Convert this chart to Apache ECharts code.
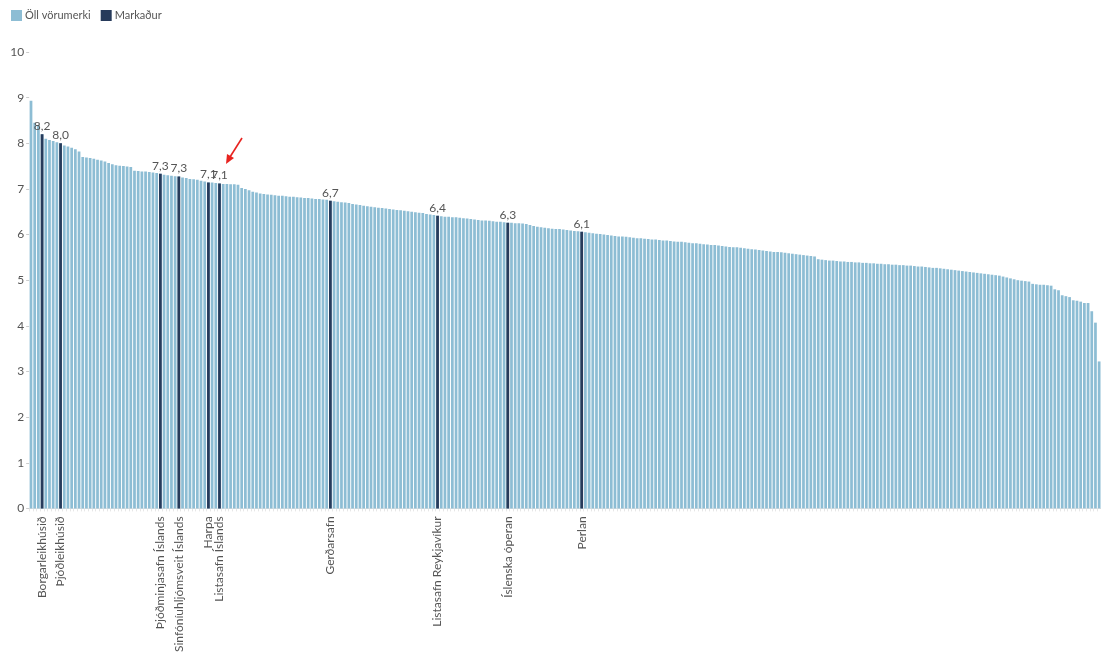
<!DOCTYPE html>
<html>
<head>
<meta charset="utf-8">
<script src="https://cdn.jsdelivr.net/npm/echarts@6/dist/echarts.min.js"></script>
<style>
html,body{margin:0;padding:0;background:#fff;}
#chart{width:1101px;height:655px;}
</style>
</head>
<body>
<div id="chart"></div>
<script>
// All brands, sorted descending
const allValues = [
  8.93, 8.45, 8.40, 8.20, 8.10, 8.07, 8.05, 8.02, 8.00, 7.95,
  7.93, 7.90, 7.87, 7.82, 7.70, 7.69, 7.68, 7.66, 7.64, 7.62,
  7.60, 7.57, 7.54, 7.52, 7.51, 7.50, 7.49, 7.48, 7.40, 7.39,
  7.38, 7.38, 7.37, 7.36, 7.35, 7.33, 7.31, 7.30, 7.29, 7.28,
  7.27, 7.25, 7.24, 7.22, 7.21, 7.20, 7.18, 7.16, 7.14, 7.14,
  7.13, 7.12, 7.11, 7.11, 7.10, 7.10, 7.09, 7.02, 7.00, 6.97,
  6.94, 6.92, 6.90, 6.89, 6.88, 6.87, 6.86, 6.85, 6.85, 6.84,
  6.83, 6.83, 6.82, 6.81, 6.80, 6.80, 6.79, 6.78, 6.78, 6.77,
  6.76, 6.74, 6.73, 6.72, 6.71, 6.70, 6.69, 6.67, 6.66, 6.65,
  6.63, 6.62, 6.61, 6.60, 6.59, 6.58, 6.57, 6.56, 6.55, 6.54,
  6.53, 6.52, 6.51, 6.50, 6.49, 6.48, 6.47, 6.45, 6.44, 6.43,
  6.41, 6.40, 6.39, 6.39, 6.38, 6.38, 6.37, 6.36, 6.35, 6.34,
  6.33, 6.32, 6.31, 6.31, 6.30, 6.29, 6.28, 6.28, 6.27, 6.26,
  6.26, 6.25, 6.25, 6.24, 6.23, 6.21, 6.19, 6.17, 6.16, 6.15,
  6.14, 6.13, 6.12, 6.12, 6.11, 6.10, 6.09, 6.08, 6.07, 6.06,
  6.05, 6.04, 6.03, 6.02, 6.01, 6.00,
  5.99, 5.98, 5.97, 5.96, 5.96, 5.95, 5.94, 5.93, 5.92, 5.92, 5.91, 5.90,
  5.89, 5.89, 5.88, 5.87, 5.87, 5.86, 5.85, 5.84, 5.84, 5.83, 5.82, 5.81, 5.81, 5.80,
  5.79, 5.78, 5.77, 5.77, 5.76, 5.75, 5.74, 5.73, 5.72, 5.72, 5.71, 5.70, 5.69,
  5.68, 5.67, 5.66, 5.65, 5.64, 5.63, 5.62, 5.62, 5.61, 5.60, 5.59, 5.58, 5.57, 5.56, 5.55, 5.54, 5.53, 5.52,
  5.46, 5.45, 5.44, 5.43, 5.43, 5.42, 5.41, 5.41, 5.40,
  5.40, 5.39, 5.39, 5.38, 5.38, 5.37, 5.37, 5.36, 5.36, 5.35, 5.35, 5.34, 5.34, 5.33,
  5.33, 5.32, 5.32, 5.31, 5.30, 5.30, 5.29, 5.28, 5.27, 5.27, 5.26, 5.25, 5.24,
  5.23, 5.22, 5.21, 5.20, 5.19, 5.18, 5.17, 5.16, 5.15, 5.14, 5.13, 5.12, 5.11, 5.10,
  5.08, 5.06, 5.04, 5.02, 5.00, 4.99, 4.98, 4.97,
  4.92, 4.91, 4.90, 4.90, 4.89, 4.88,
  4.80, 4.78,
  4.67, 4.65, 4.63,
  4.56, 4.55, 4.53,
  4.50, 4.50,
  4.32, 4.07, 3.22
];

// Highlighted market (Markaður) brands: name and position in the sorted list
const marketNames = [
  "Borgarleikhúsið", "Þjóðleikhúsið", "Þjóðminjasafn Íslands",
  "Sinfóníuhljómsveit Íslands", "Harpa", "Listasafn Íslands",
  "Gerðarsafn", "Listasafn Reykjavíkur", "Íslenska óperan", "Perlan"
];
const marketIndex = [3, 8, 35, 40, 48, 51, 81, 110, 129, 149];

const yTicks = [0, 1, 2, 3, 4, 5, 6, 7, 8, 9, 10];

const categories = allValues.map(function (v, i) {
  const k = marketIndex.indexOf(i);
  return k >= 0 ? marketNames[k] : "";
});
const marketValues = allValues.map(function (v, i) {
  return marketIndex.indexOf(i) >= 0 ? v : null;
});

const N = allValues.length;
const pitch = 3.7;

const chart = echarts.init(document.getElementById('chart'), null, {renderer: 'canvas'});
const font = 'Lato, "Open Sans", sans-serif';
chart.setOption({
  animation: false,
  textStyle: {fontFamily: font},
  legend: {
    left: 6, top: 5,
    itemWidth: 11, itemHeight: 11, itemGap: 10,
    icon: 'rect',
    textStyle: {color: '#555', fontSize: 11, fontFamily: font, padding: [0, 0, 0, -2]},
    data: ['Öll vörumerki', 'Markaður']
  },
  grid: {left: 31 - pitch / 2, top: 52, width: N * pitch, bottom: 146, containLabel: false},
  xAxis: {
    type: 'category',
    data: categories,
    axisLine: {show: true, lineStyle: {color: '#e3e3e3'}},
    axisTick: {show: true, interval: 0, length: 3, lineStyle: {color: '#e6e6e6'}},
    axisLabel: {
      interval: 0, rotate: 90, color: '#555', fontSize: 12, margin: 8,
      fontFamily: font
    }
  },
  yAxis: {
    type: 'value', min: 0, max: 10, interval: 1,
    splitLine: {show: false},
    axisLine: {show: false},
    axisTick: {show: true, length: 3, lineStyle: {color: '#ccc'}},
    axisLabel: {color: '#555', fontSize: 12, margin: 5, fontFamily: font,
      formatter: function (v) { return yTicks.indexOf(v) >= 0 ? String(v) : ''; }}
  },
  series: [
    {
      name: 'Öll vörumerki', type: 'bar', data: allValues,
      barWidth: '74%', itemStyle: {color: '#8dbdd4'},
      emphasis: {disabled: true}
    },
    {
      name: 'Markaður', type: 'bar', data: marketValues,
      barWidth: '74%', barGap: '-100%', itemStyle: {color: '#273b5b'},
      label: {
        show: true, position: 'top', distance: 2, color: '#555', fontSize: 12,
        fontFamily: font,
        formatter: function (p) { return p.value.toFixed(1).replace('.', ','); }
      },
      emphasis: {disabled: true}
    }
  ],
  graphic: [
    {type: 'line', shape: {x1: 242, y1: 138, x2: 230, y2: 157},
      style: {stroke: '#e8231f', lineWidth: 1.6}},
    {type: 'polygon', shape: {points: [[226, 164], [227, 154], [234, 158]]},
      style: {fill: '#e8231f'}}
  ]
});
</script>
</body>
</html>
